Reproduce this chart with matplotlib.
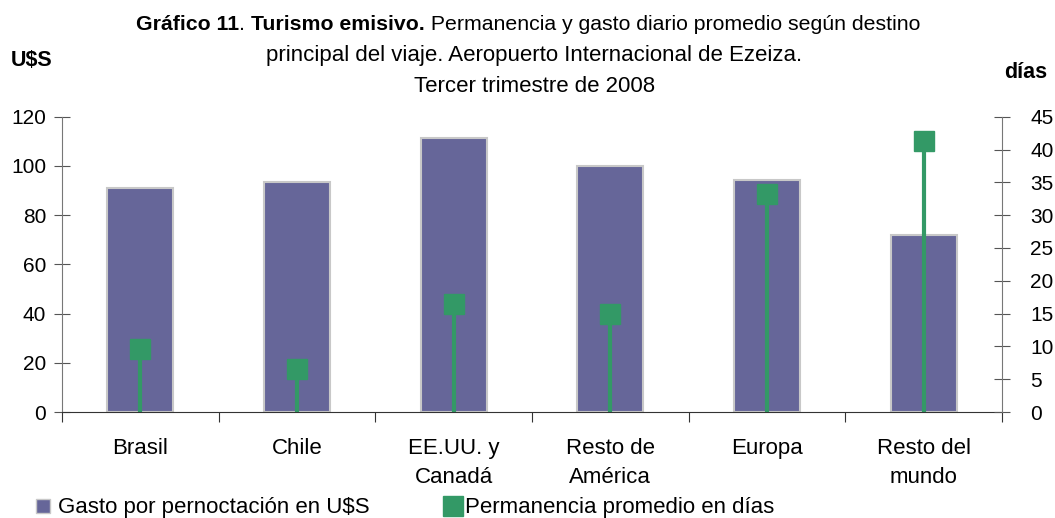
import numpy as np
import matplotlib.pyplot as plt
from matplotlib.lines import Line2D

plt.rcParams['font.family'] = ['Liberation Sans', 'DejaVu Sans']

categories = ['Brasil', 'Chile', 'EE.UU. y\nCanadá', 'Resto de\nAmérica', 'Europa', 'Resto del\nmundo']
gasto = [91, 93.5, 111.5, 100, 94.3, 72]
permanencia = [9.6, 6.5, 16.4, 14.9, 33.2, 41.3]

bar_color = '#666699'
green = '#339966'

fig = plt.figure(figsize=(10.55, 5.18), dpi=100)
ax = fig.add_axes([62 / 1055, 106 / 518, 940 / 1055, 295.3 / 518])
ax2 = ax.twinx()

x = np.arange(len(categories))
ax.bar(x, gasto, width=0.42, color=bar_color, edgecolor='#c8c8c8', linewidth=1.5, zorder=2)
ax.set_xlim(-0.5, len(categories) - 0.5)
ax.set_ylim(0, 120)
ax.set_yticks(range(0, 121, 20))

ax2.vlines(x, 0, permanencia, color=green, linewidth=3, zorder=3)
ax2.plot(x, permanencia, 's', color=green, markersize=14, linestyle='none', zorder=4)
ax2.set_ylim(0, 45)
ax2.set_yticks(range(0, 46, 5))

ax.set_xticks(np.arange(-0.5, len(categories), 1))
ax.set_xticklabels([])
ax.set_xticks(x, minor=True)
ax.set_xticklabels(categories, minor=True, fontsize=16, linespacing=1.45)
ax.tick_params(axis='x', which='minor', length=0, pad=19)
ax.tick_params(axis='x', which='major', direction='out', length=7, color='#333333')
ax.tick_params(axis='y', direction='inout', length=11, labelsize=15, color='#555555', pad=6)
ax2.tick_params(axis='y', direction='inout', length=11, labelsize=15, color='#555555', pad=15)

for a in (ax, ax2):
    a.spines['top'].set_visible(False)
ax.spines['right'].set_visible(False)
ax2.spines['left'].set_visible(False)
ax2.spines['bottom'].set_visible(False)
ax.spines['left'].set_color('#777777')
ax2.spines['right'].set_color('#777777')
ax.spines['bottom'].set_color('#333333')

# title with mixed bold / normal
renderer = fig.canvas.get_renderer()


def mixed_line(parts, y):
    texts = []
    for s, w in parts:
        texts.append(fig.text(0, y, s, fontsize=15.3, fontweight=w, va='center', ha='left'))
    widths = [t.get_window_extent(renderer).width for t in texts]
    total = sum(widths)
    start = 528 - total / 2
    for t, w in zip(texts, widths):
        t.set_x(start / 1055)
        start += w


mixed_line([('Gráfico 11', 'bold'), ('. ', 'normal'), ('Turismo emisivo.', 'bold'),
            (' Permanencia y gasto diario promedio según destino', 'normal')], 1 - 25 / 518)
fig.text(534 / 1055, 1 - 56 / 518, 'principal del viaje. Aeropuerto Internacional de Ezeiza.',
         fontsize=16, ha='center', va='center')
fig.text(535 / 1055, 1 - 87 / 518, 'Tercer trimestre de 2008', fontsize=16, ha='center', va='center')
fig.text(11 / 1055, 1 - 61 / 518, 'U$S', fontsize=15.5, fontweight='bold', va='center')
fig.text(1047 / 1055, 1 - 73 / 518, 'días', fontsize=15.5, fontweight='bold', va='center', ha='right')

h1 = Line2D([], [], marker='s', color=bar_color, markeredgecolor='#c8c8c8', markersize=9.5, linestyle='none')
h2 = Line2D([], [], marker='s', color=green, markersize=14, linestyle='none')
leg1 = fig.legend([h1], ['Gasto por pernoctación en U$S'], loc='center left',
                  bbox_to_anchor=(31.5 / 1055, 1 - 508 / 518), frameon=False, fontsize=16,
                  handlelength=1.0, handletextpad=0.2, borderpad=0, borderaxespad=0)
leg2 = fig.legend([h2], ['Permanencia promedio en días'], loc='center left',
                  bbox_to_anchor=(441.5 / 1055, 1 - 508 / 518), frameon=False, fontsize=16,
                  handlelength=1.0, handletextpad=0.07, borderpad=0, borderaxespad=0)

fig.savefig('out.png', dpi=100)
